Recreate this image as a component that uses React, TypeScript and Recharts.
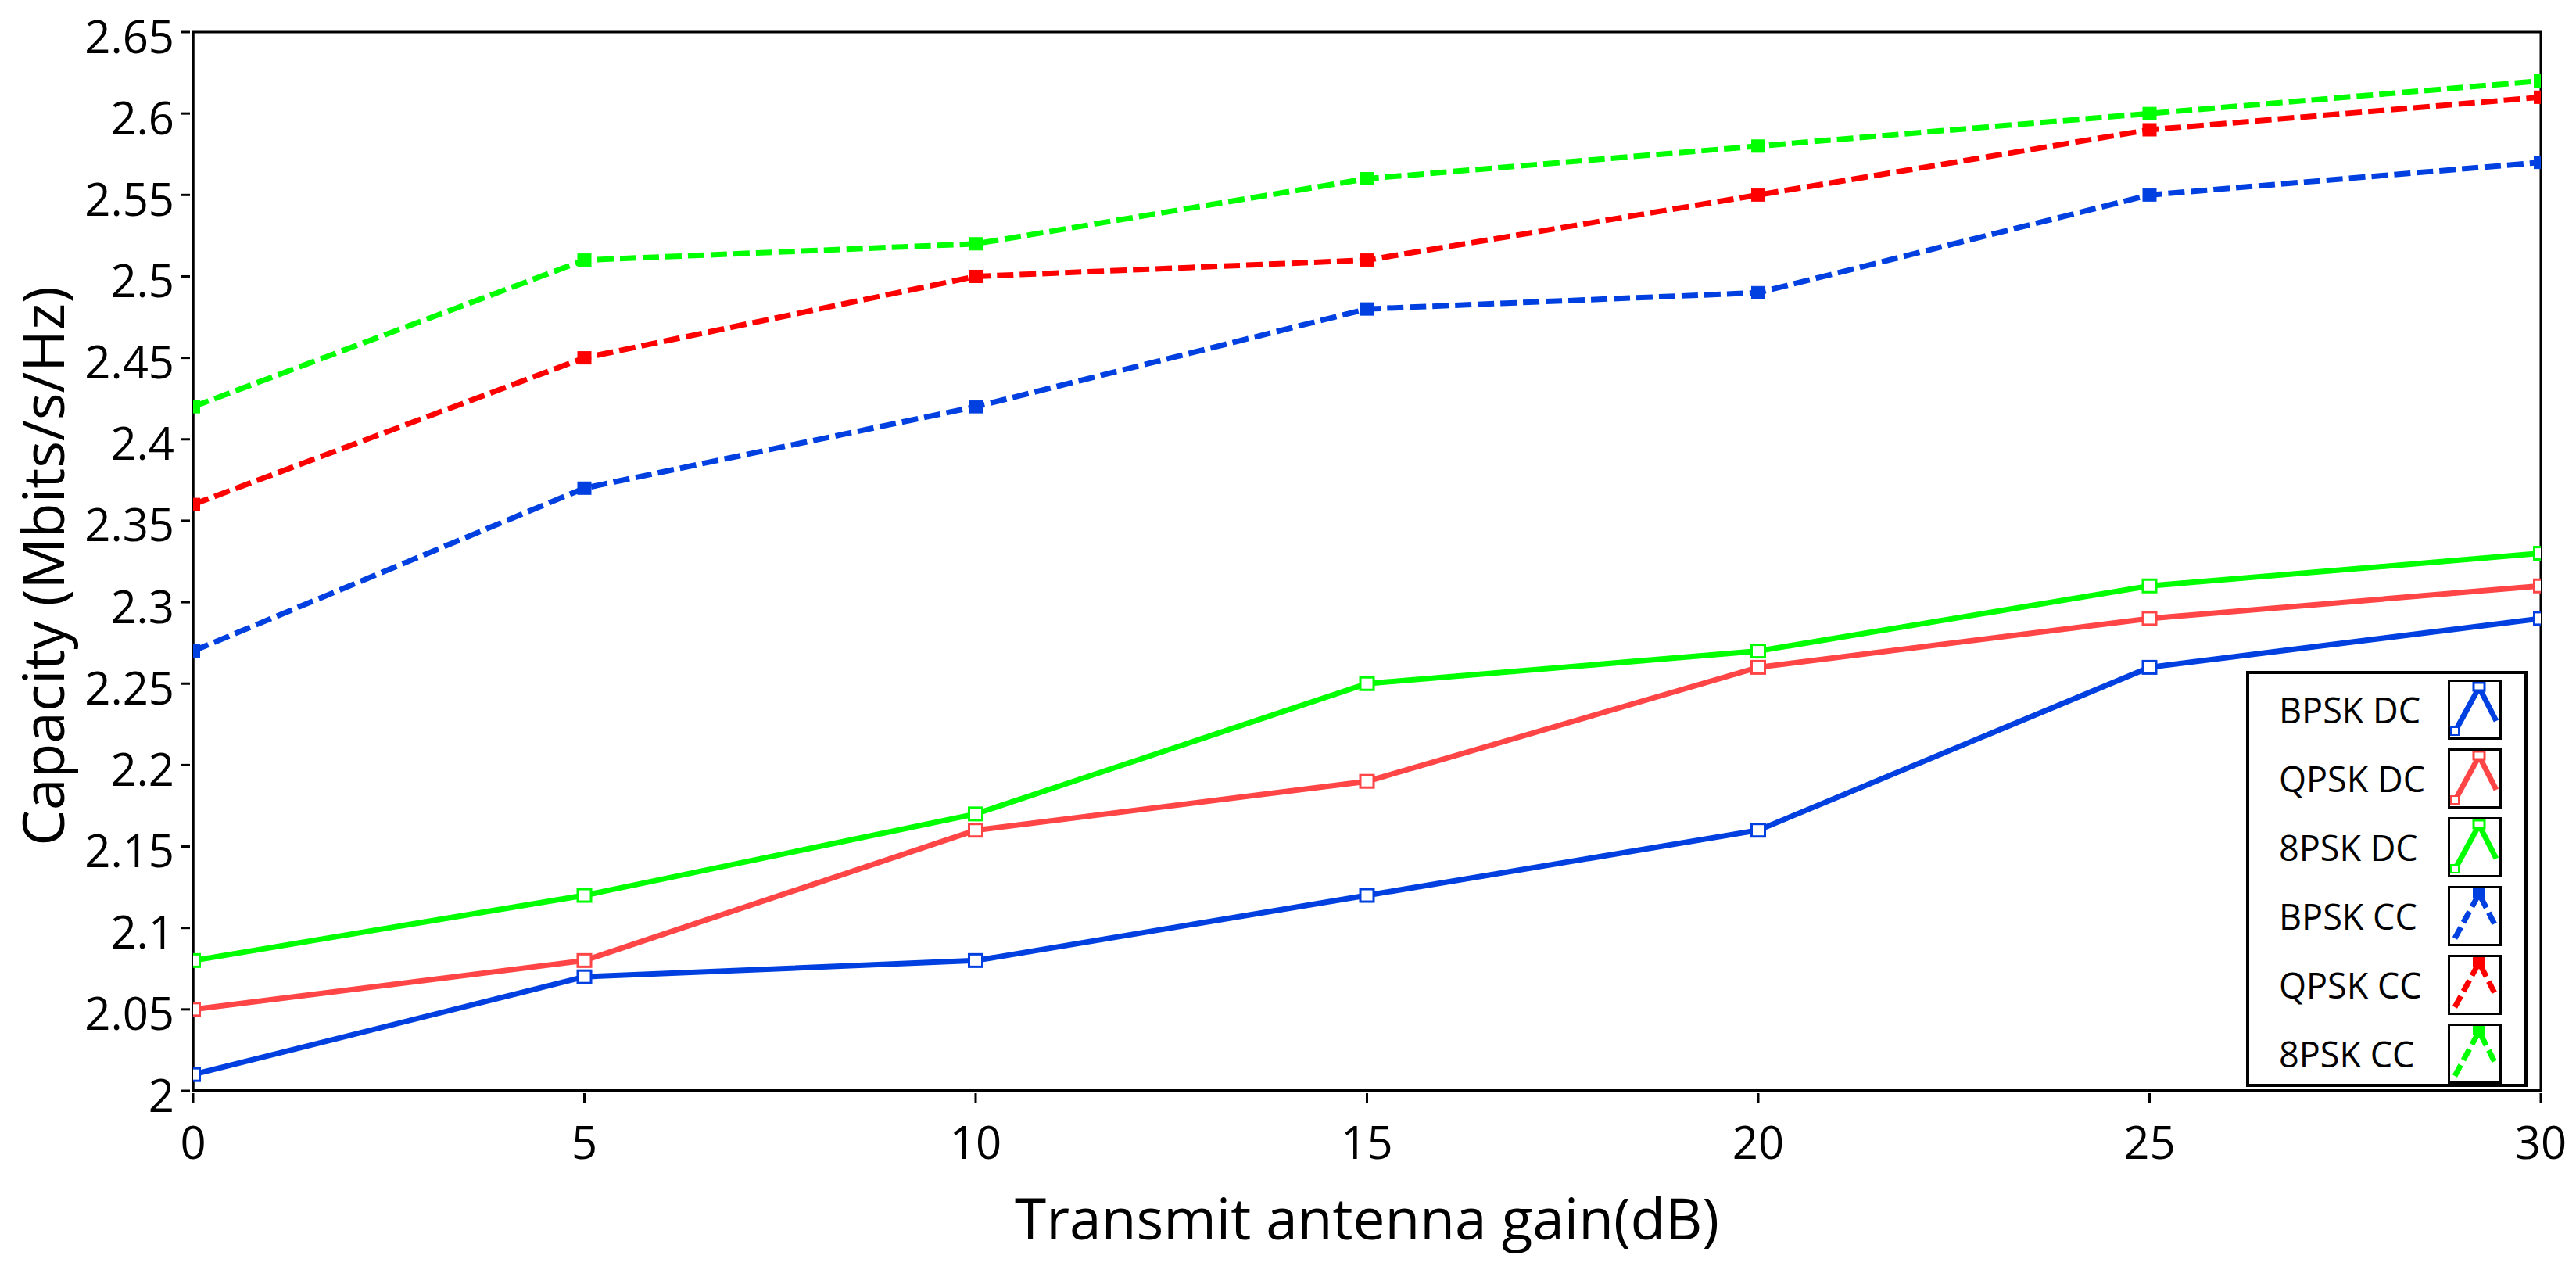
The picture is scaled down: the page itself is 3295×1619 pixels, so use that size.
import React from 'react';
import { LineChart, Line, XAxis, YAxis, Legend, ReferenceArea } from 'recharts';

const gains = [0, 5, 10, 15, 20, 25, 30];
const bpskDC = [2.01, 2.07, 2.08, 2.12, 2.16, 2.26, 2.29];
const qpskDC = [2.05, 2.08, 2.16, 2.19, 2.26, 2.29, 2.31];
const psk8DC = [2.08, 2.12, 2.17, 2.25, 2.27, 2.31, 2.33];
const bpskCC = [2.27, 2.37, 2.42, 2.48, 2.49, 2.55, 2.57];
const qpskCC = [2.36, 2.45, 2.5, 2.51, 2.55, 2.59, 2.61];
const psk8CC = [2.42, 2.51, 2.52, 2.56, 2.58, 2.6, 2.62];

const xTicks = [0, 5, 10, 15, 20, 25, 30];
const yTicks = [2, 2.05, 2.1, 2.15, 2.2, 2.25, 2.3, 2.35, 2.4, 2.45, 2.5, 2.55, 2.6, 2.65];
const seriesNames = ['BPSK DC', 'QPSK DC', '8PSK DC', 'BPSK CC', 'QPSK CC', '8PSK CC'];
const xTitle = 'Transmit antenna gain(dB)';
const yTitle = 'Capacity (Mbits/s/Hz)';

const BLUE = '#0040E0';
const RED_S = '#FF4545';
const RED_D = '#FF0000';
const GREEN = '#00FF00';

const series = [
  { key: 'bpskDC', name: seriesNames[0], color: BLUE, dashed: false, values: bpskDC },
  { key: 'qpskDC', name: seriesNames[1], color: RED_S, dashed: false, values: qpskDC },
  { key: 'psk8DC', name: seriesNames[2], color: GREEN, dashed: false, values: psk8DC },
  { key: 'bpskCC', name: seriesNames[3], color: BLUE, dashed: true, values: bpskCC },
  { key: 'qpskCC', name: seriesNames[4], color: RED_D, dashed: true, values: qpskCC },
  { key: 'psk8CC', name: seriesNames[5], color: GREEN, dashed: true, values: psk8CC },
];

const data = gains.map((g, i) => {
  const row: Record<string, number> = { gain: g };
  series.forEach((s) => {
    row[s.key] = s.values[i];
  });
  return row;
});

const FONT = '"Open Sans", "Noto Sans", sans-serif';
const DASH = '21 8';

const makeDot = (color: string, filled: boolean) => (props: any) => {
  const { cx, cy, index } = props;
  if (cx == null || cy == null) return <g key={index} />;
  return (
    <rect
      key={index}
      x={cx - 8.5}
      y={cy - 8}
      width={17}
      height={16}
      fill={filled ? color : '#FFFFFF'}
      stroke={color}
      strokeWidth={filled ? 1 : 3}
    />
  );
};

const YTick = (props: any) => {
  const { x, y, payload } = props;
  return (
    <g>
      <line x1={x - 15} x2={x - 4} y1={y} y2={y} stroke="#000" strokeWidth={3} />
      <text x={x - 24} y={y + 4} textAnchor="end" dominantBaseline="central" fontFamily={FONT} fontSize={58} fill="#000">
        {String(payload.value)}
      </text>
    </g>
  );
};

const XTick = (props: any) => {
  const { x, y, payload } = props;
  return (
    <g>
      <line x1={x} x2={x} y1={y + 3} y2={y + 15} stroke="#000" strokeWidth={3} />
      <text x={x} y={y + 64} textAnchor="middle" dominantBaseline="central" fontFamily={FONT} fontSize={58} fill="#000">
        {String(payload.value)}
      </text>
    </g>
  );
};

const XTitle = (props: any) => {
  const vb = props.viewBox || {};
  return (
    <text x={vb.x + vb.width / 2} y={vb.y + 190} textAnchor="middle" fontFamily={FONT} fontSize={73} fill="#000">
      {xTitle}
    </text>
  );
};

const YTitle = (props: any) => {
  const vb = props.viewBox || {};
  const cy = vb.y + vb.height / 2 + 6;
  const bx = 82;
  return (
    <text
      x={bx}
      y={cy}
      textAnchor="middle"
      transform={`rotate(-90, ${bx}, ${cy})`}
      fontFamily={FONT}
      fontSize={73}
      fill="#000"
    >
      {yTitle}
    </text>
  );
};

const LegendIcon = ({ color, dashed }: { color: string; dashed: boolean }) => (
  <svg width={63} height={71} style={{ display: 'block' }}>
    <polyline
      points="6,64 37,7 59,50"
      fill="none"
      stroke={color}
      strokeWidth={7}
      strokeDasharray={dashed ? '16 7' : undefined}
    />
    {dashed ? (
      <rect x={29} y={0} width={16} height={12} fill={color} />
    ) : (
      <>
        <rect x={30} y={1} width={14} height={10} fill="#fff" stroke={color} strokeWidth={3} />
        <rect x={1} y={58} width={10} height={10} fill="#fff" stroke={color} strokeWidth={2} />
      </>
    )}
  </svg>
);

const renderLegend = () => (
  <div
    style={{
      position: 'relative',
      width: 360,
      height: 532,
      boxSizing: 'border-box',
      border: '4px solid #000',
      background: '#fff',
    }}
  >
    {series.map((s, i) => (
      <div key={s.key}>
        <div
          style={{
            position: 'absolute',
            left: 38,
            top: 7 + i * 88,
            height: 77,
            lineHeight: '77px',
            fontFamily: FONT,
            fontSize: 45,
            color: '#000',
            whiteSpace: 'nowrap',
          }}
        >
          {s.name}
        </div>
        <div
          style={{
            position: 'absolute',
            left: 254,
            top: 7 + i * 88,
            width: 69,
            height: 77,
            boxSizing: 'border-box',
            border: '3px solid #000',
            background: '#fff',
          }}
        >
          <LegendIcon color={s.color} dashed={s.dashed} />
        </div>
      </div>
    ))}
  </div>
);

export default function App() {
  return (
    <div style={{ position: 'absolute', left: 0, top: 0, width: 3295, height: 1619, background: '#fff' }}>
      <LineChart width={3295} height={1619} data={data} margin={{ top: 41, right: 45, left: 0, bottom: 0 }}>
        <XAxis
          dataKey="gain"
          type="number"
          domain={[0, 30]}
          ticks={xTicks}
          allowDataOverflow
          height={224}
          tickSize={0}
          tickMargin={0}
          axisLine={{ stroke: '#000', strokeWidth: 4 }}
          tickLine={false}
          tick={<XTick />}
          interval={0}
          label={<XTitle />}
        />
        <YAxis
          type="number"
          domain={[2, 2.65]}
          ticks={yTicks}
          allowDataOverflow
          width={247}
          tickSize={0}
          tickMargin={0}
          axisLine={{ stroke: '#000', strokeWidth: 3 }}
          tickLine={false}
          tick={<YTick />}
          interval={0}
          label={<YTitle />}
        />
        <ReferenceArea x1={0} x2={30} y1={2} y2={2.65} fill="none" stroke="#000" strokeWidth={3} ifOverflow="visible" />
        {series.map((s) => (
          <Line
            key={s.key}
            dataKey={s.key}
            name={s.name}
            type="linear"
            stroke={s.color}
            strokeWidth={7}
            strokeDasharray={s.dashed ? DASH : undefined}
            dot={makeDot(s.color, s.dashed)}
            activeDot={false}
            isAnimationActive={false}
          />
        ))}
        <Legend
          layout="vertical"
          align="center"
          verticalAlign="middle"
          content={renderLegend}
          wrapperStyle={{ position: 'absolute', left: 2873, top: 858, width: 360, height: 532 }}
        />
      </LineChart>
    </div>
  );
}
